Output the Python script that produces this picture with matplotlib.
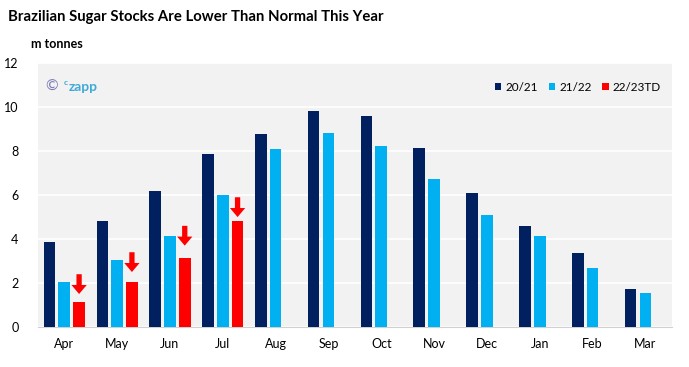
import numpy as np
import matplotlib.pyplot as plt

months = ["Apr", "May", "Jun", "Jul", "Aug", "Sep", "Oct", "Nov", "Dec", "Jan", "Feb", "Mar"]
s2021 = [3.85, 4.84, 6.2, 7.87, 8.78, 9.82, 9.6, 8.14, 6.1, 4.6, 3.35, 1.72]
s2122 = [2.04, 3.03, 4.12, 6.02, 8.1, 8.82, 8.24, 6.74, 5.1, 4.16, 2.7, 1.54]
s2223 = [1.13, 2.04, 3.12, 4.8]
# down arrows above the 22/23 bars (top, tip)
arrow_top = [2.4, 3.4, 4.6, 5.9]
arrow_tip = [1.5, 2.5, 3.7, 5.0]
yticks = [0, 2, 4, 6, 8, 10, 12]

NAVY = "#002060"
LIGHT = "#00b0f0"
RED = "#ff0000"

plt.rcParams["font.family"] = ["Lato", "DejaVu Sans"]

fig = plt.figure(figsize=(6.89, 3.67), dpi=100)
ax = fig.add_axes([0.055, 0.109, 0.92, 0.719])
ax.set_facecolor("#f2f2f2")

x = np.arange(len(months))
w = 0.22
off = 0.28
ax.bar(x - off, s2021, w, color=NAVY, label="20/21", zorder=3)
ax.bar(x, s2122, w, color=LIGHT, label="21/22", zorder=3)
ax.bar(x[:len(s2223)] + off, s2223, w, color=RED, label="22/23TD", zorder=3)

for i, (t, b) in enumerate(zip(arrow_top, arrow_tip)):
    ax.annotate("", xy=(i + off, b), xytext=(i + off, t),
                arrowprops=dict(arrowstyle="simple,head_width=1.1,head_length=0.65,tail_width=0.38",
                                color=RED, lw=0, shrinkA=0, shrinkB=0), zorder=4)

ax.set_xlim(-0.5, len(months) - 0.5)
ax.set_ylim(0, 12)
ax.set_yticks(yticks)
ax.set_xticks(x)
ax.set_xticklabels(months)
ax.tick_params(length=0, labelsize=9, colors="black")
ax.tick_params(axis="y", pad=14)
ax.tick_params(axis="x", pad=8)
ax.grid(axis="y", color="white", linewidth=1.2, zorder=1)
for s in ["top", "right", "left"]:
    ax.spines[s].set_visible(False)
ax.spines["bottom"].set_color("#d0d0d0")

ax.legend(loc="upper right", bbox_to_anchor=(1.0, 0.97), ncol=3, frameon=False,
          fontsize=8.5, handlelength=0.55, handleheight=0.55, handletextpad=0.35,
          columnspacing=0.9)

fig.text(0.012, 0.955, "Brazilian Sugar Stocks Are Lower Than Normal This Year",
         fontsize=10.7, fontweight="bold", va="center")
fig.text(0.045, 0.88, "m tonnes", fontsize=9, fontweight="bold", va="center")
ax.text(0.012, 0.91, "©", transform=ax.transAxes, fontsize=11, color="#7a7ab8", va="center")
ax.text(0.040, 0.925, "c", transform=ax.transAxes, fontsize=6, color="#3fa9d8",
        fontweight="bold", va="center")
ax.text(0.049, 0.91, "zapp", transform=ax.transAxes, fontsize=10, color="#3fa9d8",
        fontweight="bold", va="center")

fig.savefig("out.png", dpi=100)
